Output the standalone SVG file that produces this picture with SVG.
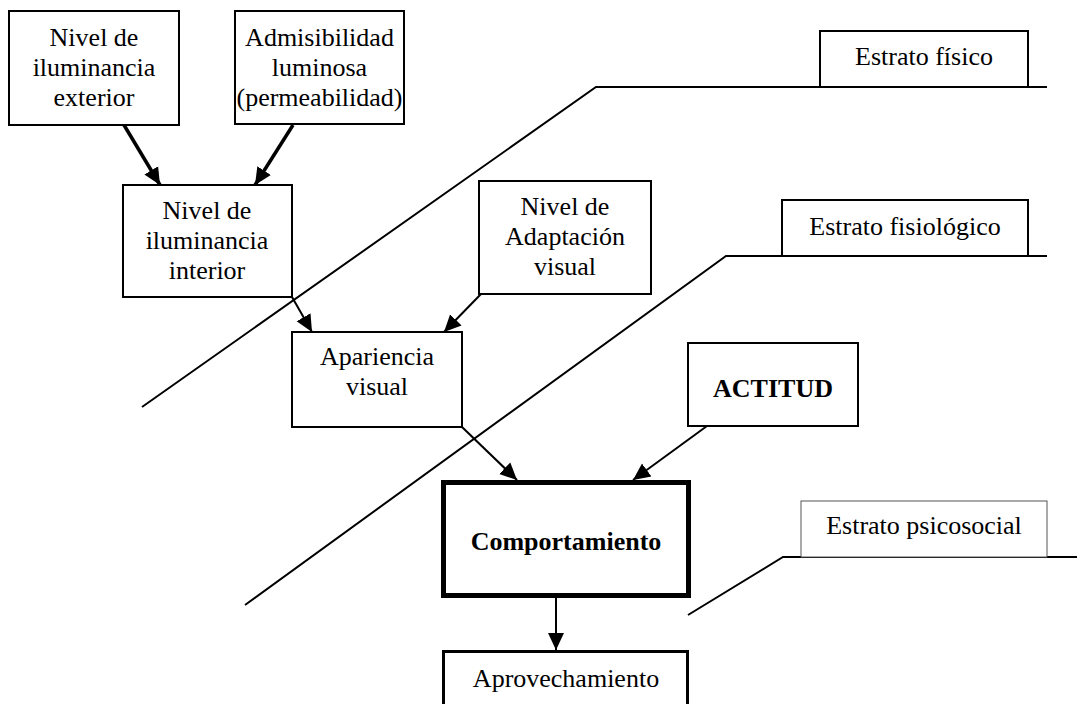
<svg xmlns="http://www.w3.org/2000/svg" width="1077" height="704" viewBox="0 0 1077 704">
<defs>
<marker id="ah" markerUnits="userSpaceOnUse" markerWidth="18" markerHeight="18" refX="17" refY="8" orient="auto" viewBox="0 0 18 16">
<path d="M0,0 L17,8 L0,16 z" fill="#000"/>
</marker>
<style>
.box{fill:#fff;stroke:#000;stroke-width:2}
.t{font-family:"Liberation Serif","Times New Roman",serif;font-size:26px;text-anchor:middle;fill:#000}
.b{font-weight:bold}
.conn{stroke:#000;stroke-width:2;fill:none}
.thick{stroke-width:3.5}
.stratum{stroke:#000;stroke-width:2;fill:none}
</style>
</defs>
<rect width="1077" height="704" fill="#fff"/>
<g id="strata">
<polyline class="stratum" points="142,407 596,87 1047,87"/>
<polyline class="stratum" points="245,605 726,256 1047,256"/>
<polyline class="stratum" points="688,615 783,557 1077,557"/>
</g>
<g id="estrato-fisico">
<rect class="box" x="820" y="31" width="208" height="56"/>
<text class="t" x="924" y="65">Estrato físico</text>
</g>
<g id="estrato-fisiologico">
<rect class="box" x="782" y="200" width="246" height="56"/>
<text class="t" x="905" y="235">Estrato fisiológico</text>
</g>
<g id="estrato-psicosocial">
<rect x="801" y="501" width="246" height="56" fill="#fff" stroke="#555" stroke-width="1"/>
<text class="t" x="924" y="534">Estrato psicosocial</text>
</g>
<g id="connectors">
<line class="conn thick" x1="124" y1="125" x2="160" y2="185" marker-end="url(#ah)"/>
<line class="conn thick" x1="293" y1="125" x2="255" y2="185" marker-end="url(#ah)"/>
<line class="conn" x1="292" y1="297" x2="312" y2="332" marker-end="url(#ah)"/>
<line class="conn" x1="481" y1="294" x2="444" y2="332" marker-end="url(#ah)"/>
<line class="conn" x1="462" y1="427" x2="517" y2="480" marker-end="url(#ah)"/>
<line class="conn" x1="707" y1="426" x2="633" y2="480" marker-end="url(#ah)"/>
<line class="conn" x1="556" y1="598" x2="556" y2="650" marker-end="url(#ah)"/>
</g>
<g id="nivel-exterior">
<rect class="box" x="9" y="11" width="170" height="114"/>
<text class="t" x="94" y="46">Nivel de</text>
<text class="t" x="94" y="76">iluminancia</text>
<text class="t" x="94" y="106">exterior</text>
</g>
<g id="admisibilidad">
<rect class="box" x="235" y="11" width="169" height="113"/>
<text class="t" x="319.5" y="46">Admisibilidad</text>
<text class="t" x="319.5" y="76">luminosa</text>
<text class="t" x="319.5" y="106">(permeabilidad)</text>
</g>
<g id="nivel-interior">
<rect class="box" x="123" y="185" width="169" height="112"/>
<text class="t" x="207" y="219">Nivel de</text>
<text class="t" x="207" y="249">iluminancia</text>
<text class="t" x="207" y="279">interior</text>
</g>
<g id="adaptacion">
<rect class="box" x="479" y="181" width="172" height="113"/>
<text class="t" x="565" y="215">Nivel de</text>
<text class="t" x="565" y="245">Adaptación</text>
<text class="t" x="565" y="275">visual</text>
</g>
<g id="apariencia">
<rect class="box" x="292" y="332" width="170" height="95"/>
<text class="t" x="377" y="365">Apariencia</text>
<text class="t" x="377" y="395">visual</text>
</g>
<g id="actitud">
<rect class="box" x="688" y="343" width="170" height="83"/>
<text class="t b" x="773" y="397">ACTITUD</text>
</g>
<g id="comportamiento">
<rect x="443.5" y="482.5" width="245" height="113" fill="#fff" stroke="#000" stroke-width="5"/>
<text class="t b" x="566" y="550">Comportamiento</text>
</g>
<g id="aprovechamiento">
<rect x="443.5" y="651.5" width="244" height="70" fill="#fff" stroke="#000" stroke-width="3"/>
<text class="t" x="566" y="687">Aprovechamiento</text>
</g>
</svg>
